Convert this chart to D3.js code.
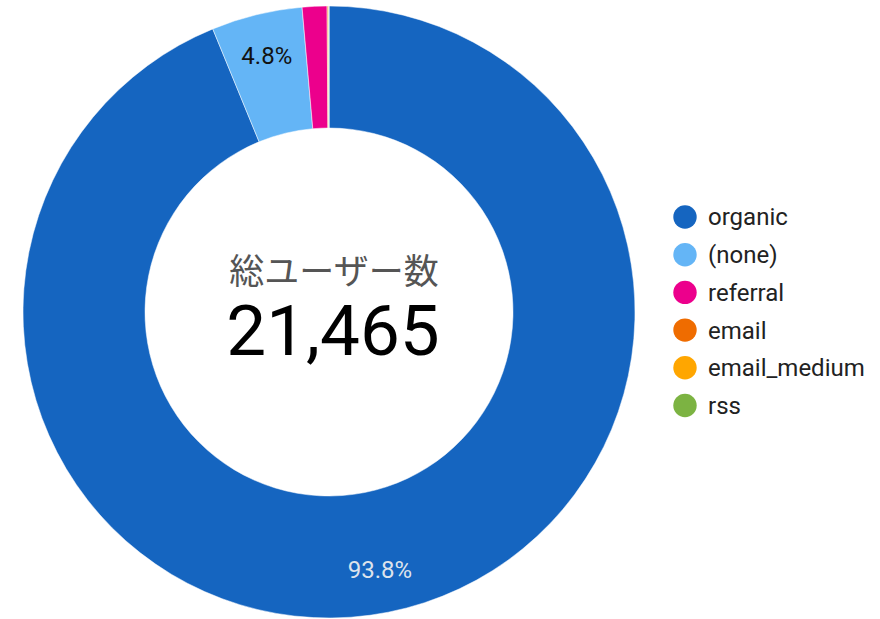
<!DOCTYPE html>
<html>
<head>
<meta charset="utf-8">
<script src="https://cdn.jsdelivr.net/npm/d3@7"></script>
<style>
  html, body { margin: 0; padding: 0; background: #fff; }
  svg { display: block; font-family: Roboto, "Noto Sans CJK JP", sans-serif; }
</style>
</head>
<body>
<svg id="chart" width="880" height="619"></svg>
<script>
// channel breakdown of total users
const categories = ['organic', '(none)', 'referral', 'email', 'email_medium', 'rss'];
const users = [20134, 1030, 280, 12, 6, 3];
const colors = ['#1565c0', '#64b5f6', '#ec008c', '#ef6c00', '#ffa600', '#7cb342'];
const centerTitle = '総ユーザー数';

const data = categories.map((c, i) => ({ name: c, value: users[i], color: colors[i] }));
const total = d3.sum(users);

const svg = d3.select('#chart');
const cx = 329, cy = 312, R = 306, r0 = 184;

const pie = d3.pie().value(d => d.value).sort(null);
const arc = d3.arc().innerRadius(r0).outerRadius(R);
const labelArc = d3.arc().innerRadius(263).outerRadius(263);

const g = svg.append('g').attr('transform', `translate(${cx},${cy})`);
const arcs = pie(data);

g.selectAll('path').data(arcs).join('path')
  .attr('d', arc)
  .attr('fill', d => d.data.color)
  .attr('stroke', '#fff').attr('stroke-width', 0.5);

const pct = d3.format('.1%');
g.selectAll('text.lbl').data(arcs.filter(d => d.data.value / total > 0.02)).join('text')
  .attr('class', 'lbl')
  .attr('transform', d => `translate(${labelArc.centroid(d)})`)
  .attr('text-anchor', 'middle').attr('dominant-baseline', 'central')
  .attr('font-size', 24)
  .attr('fill', d => d.index === 0 ? '#dde3ec' : '#111')
  .text(d => pct(d.data.value / total));

// centre
g.append('text').attr('x', 5).attr('y', -28).attr('text-anchor', 'middle')
  .attr('font-size', 35).attr('fill', '#555').text(centerTitle);
g.append('text').attr('x', 4).attr('y', 43).attr('text-anchor', 'middle')
  .attr('font-size', 71).attr('fill', '#000').text(d3.format(',')(total));

// legend
const leg = svg.append('g').attr('transform', 'translate(685,217)');
const rows = leg.selectAll('g').data(data).join('g')
  .attr('transform', (d, i) => `translate(0,${i * 37.7})`);
rows.append('circle').attr('r', 11.7).attr('fill', d => d.color);
rows.append('text').attr('x', 23).attr('dy', '0.35em')
  .attr('font-size', 24).attr('fill', '#222').text(d => d.name);
</script>
</body>
</html>
